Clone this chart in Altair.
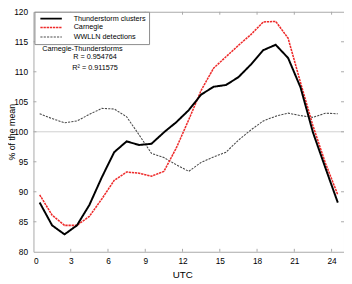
import altair as alt
import pandas as pd

# ---------------- data ----------------
hours = [0.5, 1.5, 2.5, 3.5, 4.5, 5.5, 6.5, 7.5, 8.5, 9.5, 10.5, 11.5, 12.5,
         13.5, 14.5, 15.5, 16.5, 17.5, 18.5, 19.5, 20.5, 21.5, 22.5, 23.5, 24.5]
clusters = [88.2, 84.4, 82.9, 84.4, 87.8, 92.4, 96.6, 98.4, 97.8, 98.0, 99.9, 101.6, 103.6,
            106.2, 107.5, 107.8, 109.1, 111.2, 113.6, 114.5, 112.3, 107.4, 99.9, 94.0, 88.2]
carnegie = [89.5, 86.1, 84.4, 84.4, 85.9, 88.8, 91.9, 93.3, 93.1, 92.6, 93.4, 97.3, 102.0,
            106.9, 110.6, 112.5, 114.4, 116.2, 118.3, 118.4, 115.6, 108.2, 101.0, 94.8, 89.5]
wwlln = [103.0, 102.2, 101.5, 101.8, 102.9, 103.9, 103.8, 102.5, 99.5, 96.4, 95.7, 94.5, 93.4,
         94.9, 95.8, 96.6, 98.6, 100.3, 101.8, 102.6, 103.1, 102.7, 102.4, 103.1, 103.0]

series_names = ["Thunderstorm clusters", "Carnegie", "WWLLN detections"]
series_colors = ["#000000", "#ee2a2a", "#4a4a4a"]
series_dash = [[1, 0], [2.4, 0.8], [2.2, 1.2]]
series_width = [2.0, 1.1, 1.2]

x_tick_values = [0, 3, 6, 9, 12, 15, 18, 21, 24]
y_tick_values = [80, 85, 90, 95, 100, 105, 110, 115, 120]
x_inner_ticks = [3, 6, 9, 12, 15, 18, 21, 24]
y_inner_ticks = [85, 90, 95, 100, 105, 110, 115]
reference_level = [100]

ann_text = ["Carnegie-Thunderstorms", "R = 0.954764", "R\u00b2 = 0.911575"]
ann_x = [0.7, 3.2, 3.13]
ann_y = [113.8, 112.4, 110.7]

# ---------------- tables ----------------
rows = []
for name, vals in zip(series_names, [clusters, carnegie, wwlln]):
    for h, v in zip(hours, vals):
        rows.append({"t": h, "v": v, "series": name})
df = pd.DataFrame(rows)
ann_df = pd.DataFrame({"t": ann_x, "v": ann_y, "label": ann_text})
xt_df = pd.DataFrame({"t": x_inner_ticks})
yt_df = pd.DataFrame({"v": y_inner_ticks})
ref_df = pd.DataFrame({"v": reference_level})

FONT = "Liberation Sans Narrow, Arial Narrow, Liberation Sans, Arial, sans-serif"
W, H = 317, 245
FRAME = "#a8a8a8"

xs = alt.Scale(domain=[0, 25], nice=False, zero=False)
ys = alt.Scale(domain=[80, 120], nice=False, zero=False)

xaxis = alt.Axis(values=x_tick_values, ticks=False, tickSize=0, domain=False, grid=False,
                 labelFont=FONT, labelFontSize=8.5, labelColor="black", labelPadding=5,
                 titleFont=FONT, titleFontSize=10, titleFontWeight="normal", titleColor="black",
                 titleX=152, titleY=26, titleBaseline="alphabetic", titleAlign="center")
yaxis = alt.Axis(values=y_tick_values, ticks=False, tickSize=0, domain=False, grid=False,
                 labelFont=FONT, labelFontSize=8.5, labelColor="black", labelPadding=6,
                 titleFont=FONT, titleFontSize=9, titleFontWeight="normal", titleColor="black",
                 titleAngle=270, titleX=-19, titleY=H / 2, titleBaseline="alphabetic",
                 titleAlign="center")

X = lambda f: alt.X(f, scale=xs, axis=xaxis, title="UTC")
Y = lambda f: alt.Y(f, scale=ys, axis=yaxis, title="% of the mean")

leg = alt.Legend(orient="none", legendX=1, legendY=0, direction="vertical", title=None,
                 fillColor="white", strokeColor="#8a8a8a", padding=3, cornerRadius=0,
                 symbolType="M-4,0H4", symbolSize=30, symbolOffset=10, labelOffset=19,
                 labelFont=FONT, labelFontSize=7.4, labelColor="black", rowPadding=1,
                 labelLimit=0)

color = alt.Color("series:N", scale=alt.Scale(domain=series_names, range=series_colors),
                  legend=leg, title=None)
dash = alt.StrokeDash("series:N", scale=alt.Scale(domain=series_names, range=series_dash),
                      legend=leg, title=None)
width = alt.StrokeWidth("series:N", scale=alt.Scale(domain=series_names, range=series_width),
                        legend=leg, title=None)

ref_rule = alt.Chart(ref_df).mark_rule(color="#cfcfcf", strokeWidth=1).encode(y=Y("v:Q"))

line_layers = []
for name in ["WWLLN detections", "Carnegie", "Thunderstorm clusters"]:
    line_layers.append(
        alt.Chart(df).transform_filter(alt.datum.series == name)
        .mark_line(strokeCap="butt", strokeJoin="miter")
        .encode(x=X("t:Q"), y=Y("v:Q"), color=color, strokeDash=dash, strokeWidth=width,
                order="t:Q")
    )

tick_top = alt.Chart(xt_df).mark_rule(color=FRAME, strokeWidth=1).encode(
    x=X("t:Q"), y=alt.value(0), y2=alt.value(3))
tick_bottom = alt.Chart(xt_df).mark_rule(color=FRAME, strokeWidth=1).encode(
    x=X("t:Q"), y=alt.value(H - 3), y2=alt.value(H))
tick_left = alt.Chart(yt_df).mark_rule(color=FRAME, strokeWidth=1).encode(
    y=Y("v:Q"), x=alt.value(0), x2=alt.value(3))
tick_right = alt.Chart(yt_df).mark_rule(color=FRAME, strokeWidth=1).encode(
    y=Y("v:Q"), x=alt.value(W - 3), x2=alt.value(W))

ann = alt.Chart(ann_df).mark_text(align="left", baseline="middle", font=FONT, fontSize=7.4,
                                  color="black").encode(x=X("t:Q"), y=Y("v:Q"), text="label:N")

chart = alt.layer(ref_rule, *line_layers, tick_top, tick_bottom, tick_left, tick_right, ann).properties(
    width=W, height=H,
    autosize=alt.AutoSizeParams(type="none"),
    padding={"left": 26, "top": 1, "right": 0, "bottom": 28},
    background="white",
).configure_view(stroke=FRAME, strokeWidth=1)

chart.save("out.html", embed_options={"renderer": "svg", "actions": False})
